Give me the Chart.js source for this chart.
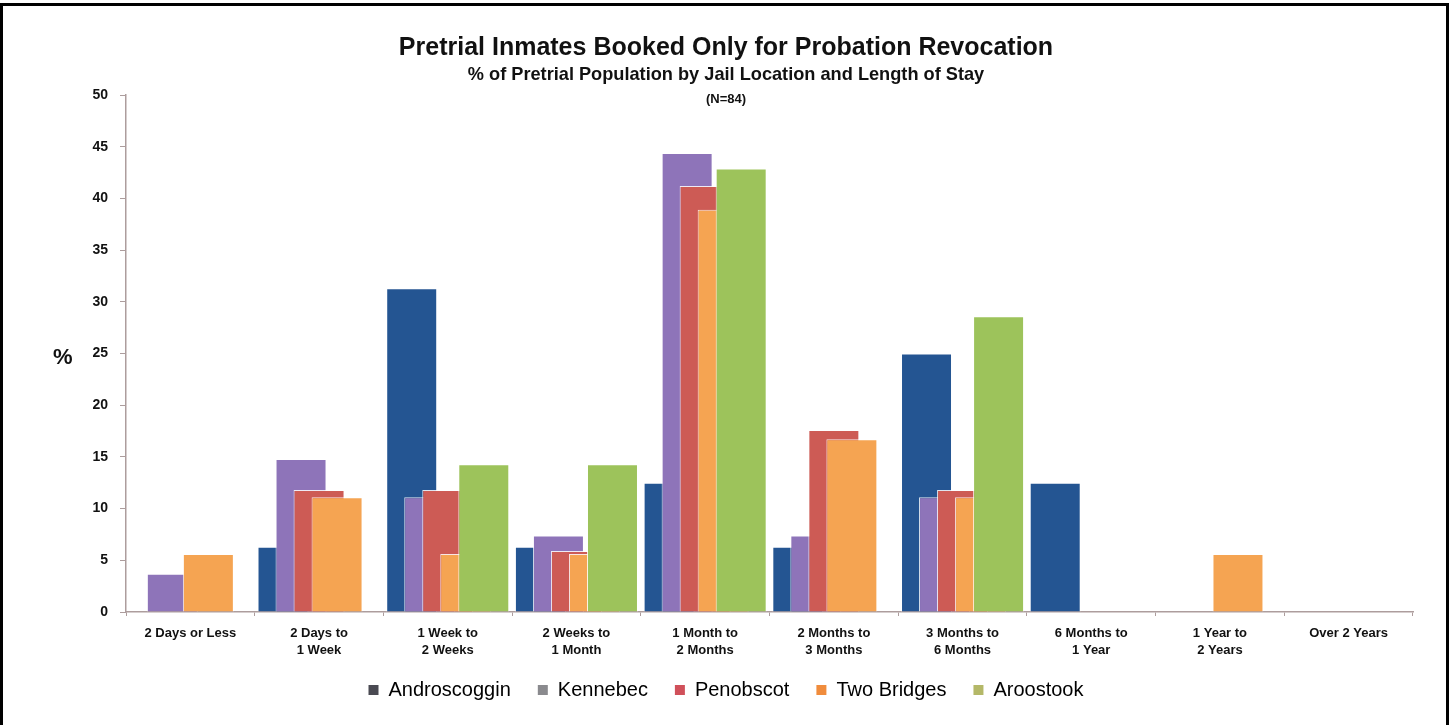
<!DOCTYPE html>
<html>
<head>
<meta charset="utf-8">
<script src="https://cdn.jsdelivr.net/npm/chart.js@4"></script>
<style>
  html, body { margin: 0; padding: 0; background: #fff; }
  #wrap { position: relative; width: 1452px; height: 725px; overflow: hidden; font-family: "Liberation Sans", Arial, sans-serif; }
  #frame { position: absolute; left: 0; top: 3px; width: 1449px; height: 800px; border: 3px solid #000; box-sizing: border-box; pointer-events: none; }
  .txt { position: absolute; left: 0; width: 1452px; text-align: center; font-weight: bold; color: #111; }
  #title { top: 32px; font-size: 25px; }
  #subtitle { top: 64px; font-size: 18.2px; }
  #nline { top: 91px; font-size: 13px; }
  #pct { position: absolute; left: 53px; top: 344px; font-size: 22px; font-weight: bold; color: #111; }
  canvas { position: absolute; left: 0; top: 0; }
</style>
</head>
<body>
<div id="wrap">
  <canvas id="chart" width="1452" height="725"></canvas>
  <div id="title" class="txt">Pretrial Inmates Booked Only for Probation Revocation</div>
  <div id="subtitle" class="txt">% of Pretrial Population by Jail Location and Length of Stay</div>
  <div id="nline" class="txt">(N=84)</div>
  <div id="pct">%</div>
  <div id="frame"></div>
</div>
<script>
// length of stay categories (two-line tick labels)
const categories = [
    ['2 Days or Less'],
    ['2 Days to', '1 Week'],
    ['1 Week to', '2 Weeks'],
    ['2 Weeks to', '1 Month'],
    ['1 Month to', '2 Months'],
    ['2 Months to', '3 Months'],
    ['3 Months to', '6 Months'],
    ['6 Months to', '1 Year'],
    ['1 Year to', '2 Years'],
    ['Over 2 Years']
];

const jails = ['Androscoggin', 'Kennebec', 'Penobscot', 'Two Bridges', 'Aroostook'];

// % of pretrial population
const androscoggin = [0, 6.3, 31.3, 6.3, 12.5, 6.3, 25.0, 12.5, 0, 0];
const kennebec     = [3.7, 14.8, 11.1, 7.4, 44.4, 7.4, 11.1, 0, 0, 0];
const penobscot    = [0, 11.8, 11.8, 5.9, 41.2, 17.6, 11.8, 0, 0, 0];
const twoBridges   = [5.6, 11.1, 5.6, 5.6, 38.9, 16.7, 11.1, 0, 5.6, 0];
const aroostook    = [0, 0, 14.3, 14.3, 42.9, 0, 28.6, 0, 0, 0];

const yTicks = [0, 5, 10, 15, 20, 25, 30, 35, 40, 45, 50];

const barColors = ['#245592', '#8e74b9', '#cd5b55', '#f5a452', '#9dc35b'];
const legendColors = ['#4a4a52', '#8a8a8e', '#d0505a', '#f08c3c', '#b4b868'];
const axisColor = '#ad9d9d';
const fontFamily = '"Liberation Sans", Arial, sans-serif';

// later series are drawn on top of earlier ones, like the original
const drawOrder = {
    id: 'drawOrder',
    beforeDatasetsDraw(chart) {
        const ctx = chart.ctx;
        const a = chart.chartArea;
        ctx.save();
        ctx.beginPath();
        ctx.rect(a.left, a.top - 2, a.right - a.left, a.bottom - a.top + 2);
        ctx.clip();
        chart.getSortedVisibleDatasetMetas().forEach((meta) => meta.controller.draw());
        ctx.restore();
        return false;
    }
};

// pull the legend up under the tick labels and centre it on the page
const legendPlace = {
    id: 'legendPlace',
    afterLayout(chart) {
        const lg = chart.legend;
        const h = lg.bottom - lg.top;
        lg.top = 653;
        lg.bottom = lg.top + h;
        lg.left = 0;
        lg.right = chart.width;
    }
};

window.addEventListener('DOMContentLoaded', () => {
    const series = [androscoggin, kennebec, penobscot, twoBridges, aroostook];
    const chart = new Chart(
        document.getElementById('chart'),
        {
            type: 'bar',
            data: {
                labels: categories,
                datasets: series.map((values, i) => ({
                    label: jails[i],
                    data: values,
                    backgroundColor: barColors[i],
                    borderColor: 'rgba(255,255,255,0.85)',
                    borderWidth: 1,
                    categoryPercentage: 0.70,
                    barPercentage: 2.83
                }))
            },
            options: {
                responsive: false,
                animation: false,
                layout: {
                    padding: {top: 95, right: 39, bottom: 6, left: 0}
                },
                plugins: {
                    title: {display: false},
                    tooltip: {enabled: false},
                    legend: {
                        position: 'bottom',
                        labels: {
                            color: '#222',
                            font: {family: fontFamily, size: 20},
                            boxWidth: 10,
                            boxHeight: 10,
                            padding: 27,
                            generateLabels(chart) {
                                return chart.data.datasets.map((ds, i) => ({
                                    text: ds.label,
                                    fillStyle: legendColors[i],
                                    strokeStyle: legendColors[i],
                                    lineWidth: 0,
                                    hidden: false,
                                    datasetIndex: i
                                }));
                            }
                        }
                    }
                },
                scales: {
                    x: {
                        grid: {
                            drawOnChartArea: false,
                            drawTicks: true,
                            tickLength: 4,
                            color: axisColor
                        },
                        border: {color: axisColor, width: 1.5},
                        ticks: {
                            color: '#111',
                            font: {family: fontFamily, size: 13, weight: 'bold', lineHeight: 1.3},
                            padding: 9,
                            maxRotation: 0,
                            autoSkip: false
                        },
                        afterFit(scale) { scale.height = 50; }
                    },
                    y: {
                        min: 0,
                        max: 50,
                        afterBuildTicks(scale) {
                            scale.ticks = yTicks.map((v) => ({value: v}));
                        },
                        grid: {
                            drawOnChartArea: false,
                            drawTicks: true,
                            tickLength: 6,
                            color: axisColor
                        },
                        border: {color: axisColor, width: 1.5},
                        ticks: {
                            color: '#111',
                            font: {family: fontFamily, size: 14, weight: 'bold'},
                            padding: 12
                        },
                        afterFit(scale) { scale.width = 126; }
                    }
                }
            },
            plugins: [drawOrder, legendPlace]
        }
    );
});
</script>
</body>
</html>
